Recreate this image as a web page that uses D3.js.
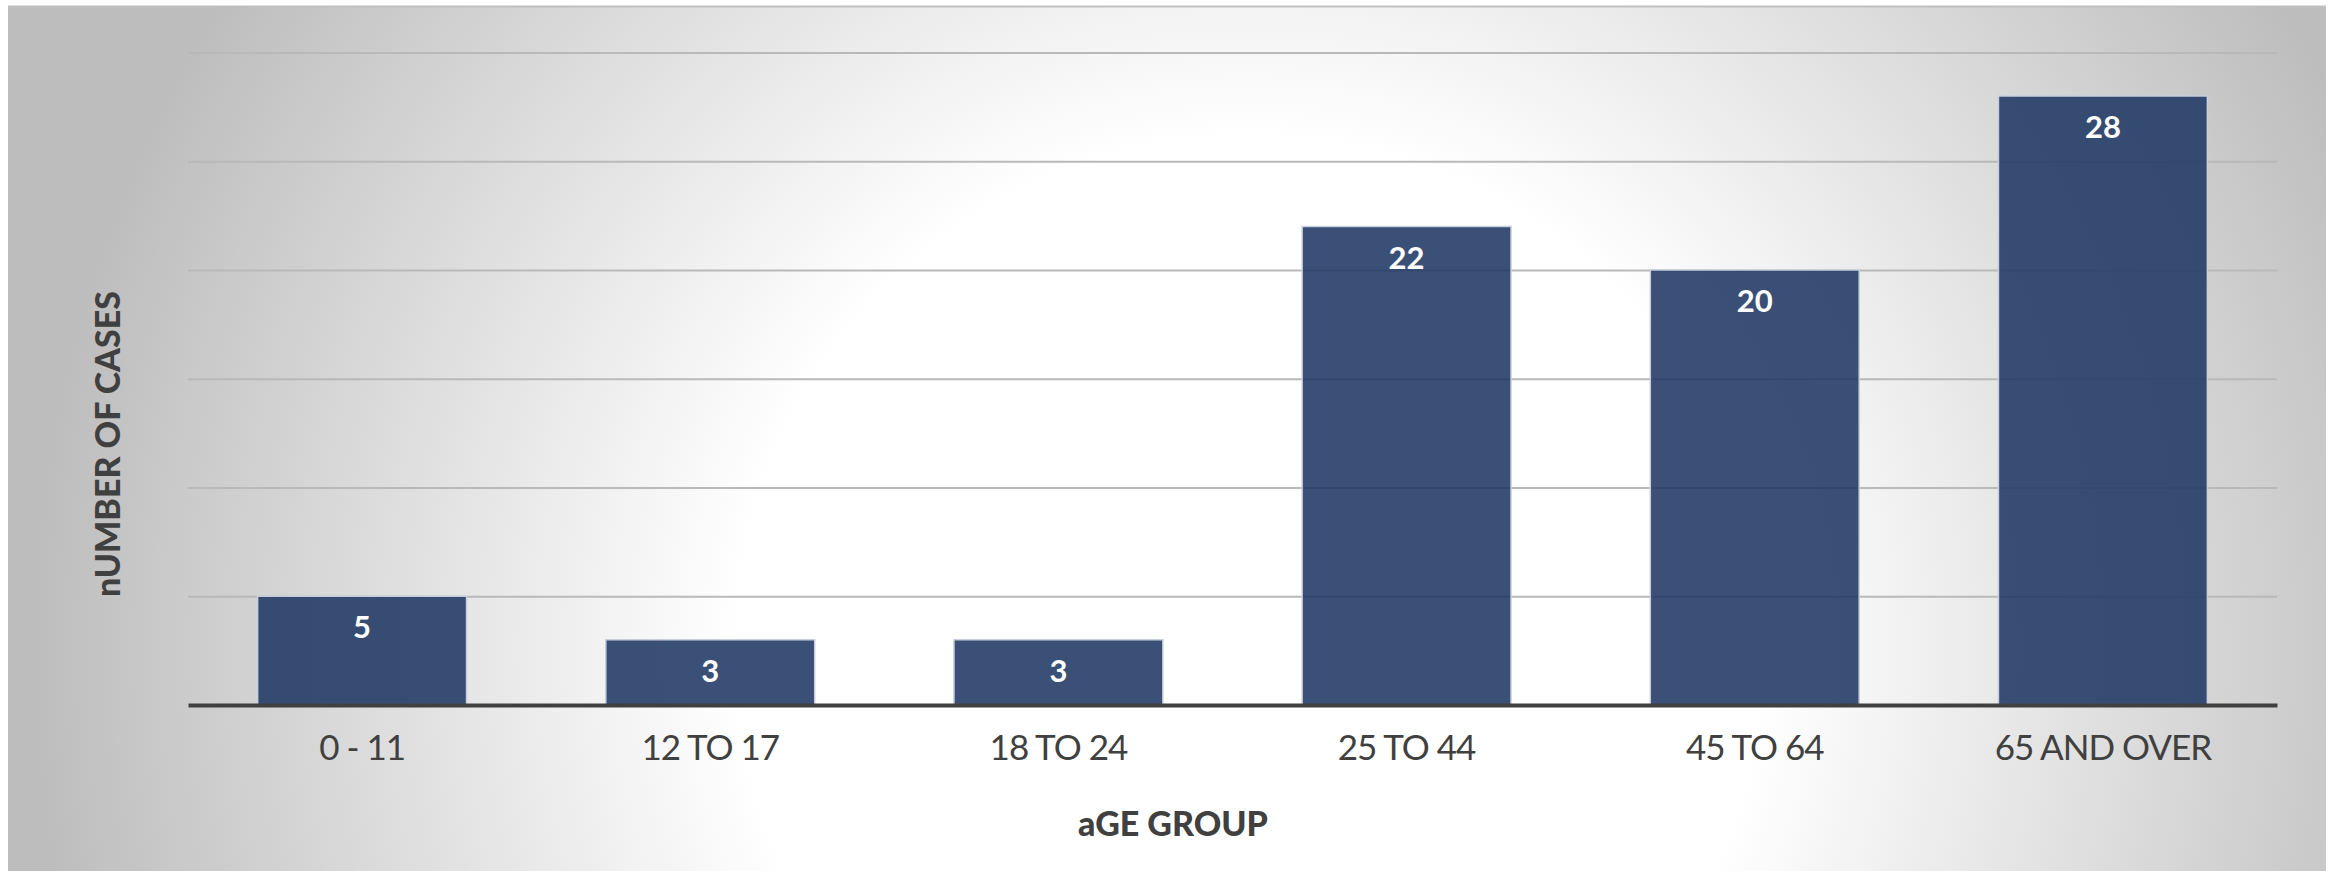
<!DOCTYPE html>
<html>
<head>
<meta charset="utf-8">
<script src="https://cdn.jsdelivr.net/npm/d3@7"></script>
<style>
  body { margin: 0; background: #fff; }
  svg { display: block; }
  text { font-family: Lato, "Open Sans", sans-serif; }
</style>
</head>
<body>
<div id="chart"></div>
<script>
// values
const ageGroups = ['0 - 11', '12 TO 17', '18 TO 24', '25 TO 44', '45 TO 64', '65 AND OVER'];
const cases = [5, 3, 3, 22, 20, 28];
const gridTicks = [5, 10, 15, 20, 25, 30];

const W = 2343, H = 871;
const margin = { left: 188, right: 66, top: 52.5, bottom: 166 };

const svg = d3.select('#chart').append('svg')
  .attr('width', W)
  .attr('height', H);

// background gradient (white in the middle, grey toward the edges)
const defs = svg.append('defs');
const grad = defs.append('radialGradient')
  .attr('id', 'bg')
  .attr('gradientUnits', 'userSpaceOnUse')
  .attr('cx', 1250).attr('cy', 650)
  .attr('r', 1220);
grad.append('stop').attr('offset', 0).attr('stop-color', '#ffffff');
grad.append('stop').attr('offset', 0.42).attr('stop-color', '#ffffff');
grad.append('stop').attr('offset', 1).attr('stop-color', '#bdbdbd');

svg.append('rect')
  .attr('x', 8).attr('y', 6)
  .attr('width', 2318).attr('height', 866)
  .attr('fill', 'url(#bg)');
svg.append('line')
  .attr('x1', 8).attr('x2', 2326)
  .attr('y1', 6.5).attr('y2', 6.5)
  .attr('stroke', '#c0c0c0')
  .attr('stroke-width', 2);

const x = d3.scaleBand()
  .domain(ageGroups)
  .range([margin.left, W - margin.right])
  .paddingInner(0.4)
  .paddingOuter(0.2);

const y = d3.scaleLinear()
  .domain([0, 30])
  .range([H - margin.bottom, margin.top]);

// gridlines
const grid = svg.append('g')
  .attr('transform', `translate(${margin.left},0)`)
  .call(d3.axisLeft(y)
    .tickValues(gridTicks)
    .tickSize(-(W - margin.left - margin.right))
    .tickFormat(''));
grid.select('.domain').remove();
grid.selectAll('.tick line')
  .attr('stroke', '#b9b9b9')
  .attr('stroke-width', 2);

// bars
svg.append('g')
  .selectAll('rect')
  .data(cases)
  .join('rect')
  .attr('x', (d, i) => x(ageGroups[i]))
  .attr('y', d => y(d))
  .attr('width', x.bandwidth())
  .attr('height', d => y(0) - y(d))
  .attr('fill', '#203864')
  .attr('fill-opacity', 0.88)
  .attr('stroke', '#c8cfdb')
  .attr('stroke-width', 1.5);

// value labels
svg.append('g')
  .selectAll('text')
  .data(cases)
  .join('text')
  .attr('x', (d, i) => x(ageGroups[i]) + x.bandwidth() / 2)
  .attr('y', d => y(d) + 42)
  .attr('text-anchor', 'middle')
  .attr('fill', '#ffffff')
  .attr('font-weight', 700)
  .attr('font-size', 31)
  .text(d => d);

// x axis
const xAxis = svg.append('g')
  .attr('transform', `translate(0,${y(0)})`)
  .call(d3.axisBottom(x).tickSize(0).tickPadding(30));
xAxis.select('.domain')
  .attr('stroke', '#404040')
  .attr('stroke-width', 4);
xAxis.selectAll('.tick text')
  .attr('font-family', 'Lato, sans-serif')
  .attr('font-size', 35)
  .attr('fill', '#404040')
  .attr('letter-spacing', -1);

// axis titles
svg.append('text')
  .attr('x', 1173)
  .attr('y', 836)
  .attr('text-anchor', 'middle')
  .attr('font-weight', 900)
  .attr('font-size', 34)
  .attr('fill', '#404040')
  .text('aGE GROUP');

svg.append('text')
  .attr('transform', 'translate(120,444) rotate(-90)')
  .attr('text-anchor', 'middle')
  .attr('font-weight', 900)
  .attr('font-size', 34)
  .attr('fill', '#404040')
  .text('nUMBER OF CASES');
</script>
</body>
</html>
